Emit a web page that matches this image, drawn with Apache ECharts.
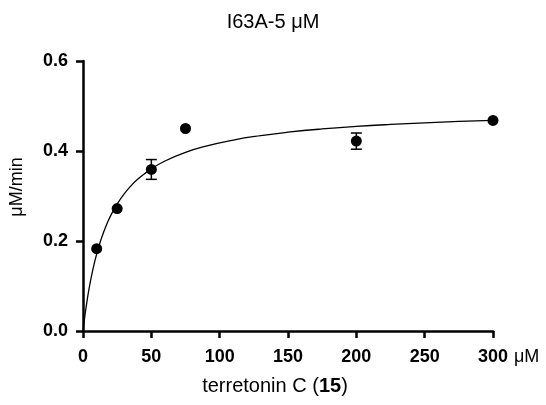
<!DOCTYPE html>
<html>
<head>
<meta charset="utf-8">
<script src="https://cdn.jsdelivr.net/npm/echarts@6/dist/echarts.min.js"></script>
<style>
  html, body { margin: 0; padding: 0; background: #fff; }
  #box1 { width: 546px; height: 405px; }
</style>
</head>
<body>
<div id="box1"></div>
<script>
// measured points (substrate uM, rate uM/min)
var substrate = [10, 25, 50, 75, 200, 300]
var rate = [0.183, 0.272, 0.359, 0.450, 0.422, 0.468]
var rateErr = [0, 0, 0.022, 0, 0.018, 0]

// Michaelis-Menten fit
var vmax = 0.498
var km = 19.1
var fitX = [0, 0.5, 1, 2, 3, 4, 5, 6, 8, 10, 12, 15, 18, 21, 25, 30, 35, 40, 50, 60, 75, 90, 110, 130, 150, 175, 200, 225, 250, 275, 300]

var xTicks = [0, 50, 100, 150, 200, 250, 300]
var yTicks = [0, 0.2, 0.4, 0.6]

var points = substrate.map(function (x, i) { return [x, rate[i]] })
var errData = []
substrate.forEach(function (x, i) {
    if (rateErr[i] > 0) errData.push([x, rate[i] - rateErr[i], rate[i] + rateErr[i]])
})
var fitData = fitX.map(function (x) { return [x, vmax * x / (km + x)] })

var font = 'Liberation Sans, Arial, sans-serif'

var first = echarts.init(document.getElementById('box1'))
var option = {
    animation: false,
    title: {
        text: 'I63A-5 μM',
        left: 'center',
        top: 7,
        textStyle: { fontFamily: font, fontSize: 20, fontWeight: 'normal', color: '#000' }
    },
    grid: { left: 83, right: 53, top: 61, bottom: 74, containLabel: false, outerBoundsMode: 'none' },
    xAxis: {
        type: 'value',
        min: xTicks[0],
        max: xTicks[xTicks.length - 1],
        interval: 50,
        name: 'terretonin C ({b|15})',
        nameLocation: 'middle',
        nameGap: 45,
        nameTextStyle: {
            fontFamily: font, fontSize: 20, color: '#000',
            padding: [0, 26, 0, 0],
            rich: { b: { fontFamily: font, fontSize: 20, fontWeight: 'bold', color: '#000' } }
        },
        axisLine: { lineStyle: { color: '#000', width: 2.5 } },
        axisTick: { inside: false, length: 7, lineStyle: { color: '#000', width: 2.5 } },
        axisLabel: { margin: 17, fontFamily: font, fontSize: 18, fontWeight: 'bold', color: '#000' },
        splitLine: { show: false }
    },
    yAxis: {
        type: 'value',
        min: yTicks[0],
        max: yTicks[yTicks.length - 1],
        interval: 0.2,
        name: 'μM/min',
        nameLocation: 'middle',
        nameGap: 57,
        nameTextStyle: { fontFamily: font, fontSize: 18, color: '#000', padding: [0, 0, 0, 18] },
        axisLine: { show: true, lineStyle: { color: '#000', width: 2.5 } },
        axisTick: { show: true, inside: false, length: 7, lineStyle: { color: '#000', width: 2.5 } },
        axisLabel: {
            margin: 15, fontFamily: font, fontSize: 18, fontWeight: 'bold', color: '#000',
            formatter: function (v) { return v.toFixed(1) }
        },
        splitLine: { show: false }
    },
    graphic: [{
        type: 'text',
        left: 514,
        top: 348,
        style: { text: 'μM', fontFamily: font, fontSize: 18, fill: '#000' }
    }],
    series: [
        {
            name: 'fit',
            type: 'line',
            data: fitData,
            smooth: true,
            showSymbol: false,
            lineStyle: { color: '#000', width: 1.3 },
            z: 2
        },
        {
            name: 'err',
            type: 'custom',
            data: errData,
            renderItem: function (params, api) {
                var x = api.value(0)
                var lo = api.coord([x, api.value(1)])
                var hi = api.coord([x, api.value(2)])
                var cap = 5.5
                var st = { stroke: '#000', lineWidth: 1.5 }
                return {
                    type: 'group',
                    children: [
                        { type: 'line', shape: { x1: lo[0], y1: lo[1], x2: hi[0], y2: hi[1] }, style: st },
                        { type: 'line', shape: { x1: lo[0] - cap, y1: lo[1], x2: lo[0] + cap, y2: lo[1] }, style: st },
                        { type: 'line', shape: { x1: hi[0] - cap, y1: hi[1], x2: hi[0] + cap, y2: hi[1] }, style: st }
                    ]
                }
            },
            z: 3
        },
        {
            name: 'data',
            type: 'scatter',
            data: points,
            symbol: 'circle',
            symbolSize: 11,
            itemStyle: { color: '#000', opacity: 1 },
            z: 4
        }
    ]
}
first.setOption(option)
</script>
</body>
</html>
